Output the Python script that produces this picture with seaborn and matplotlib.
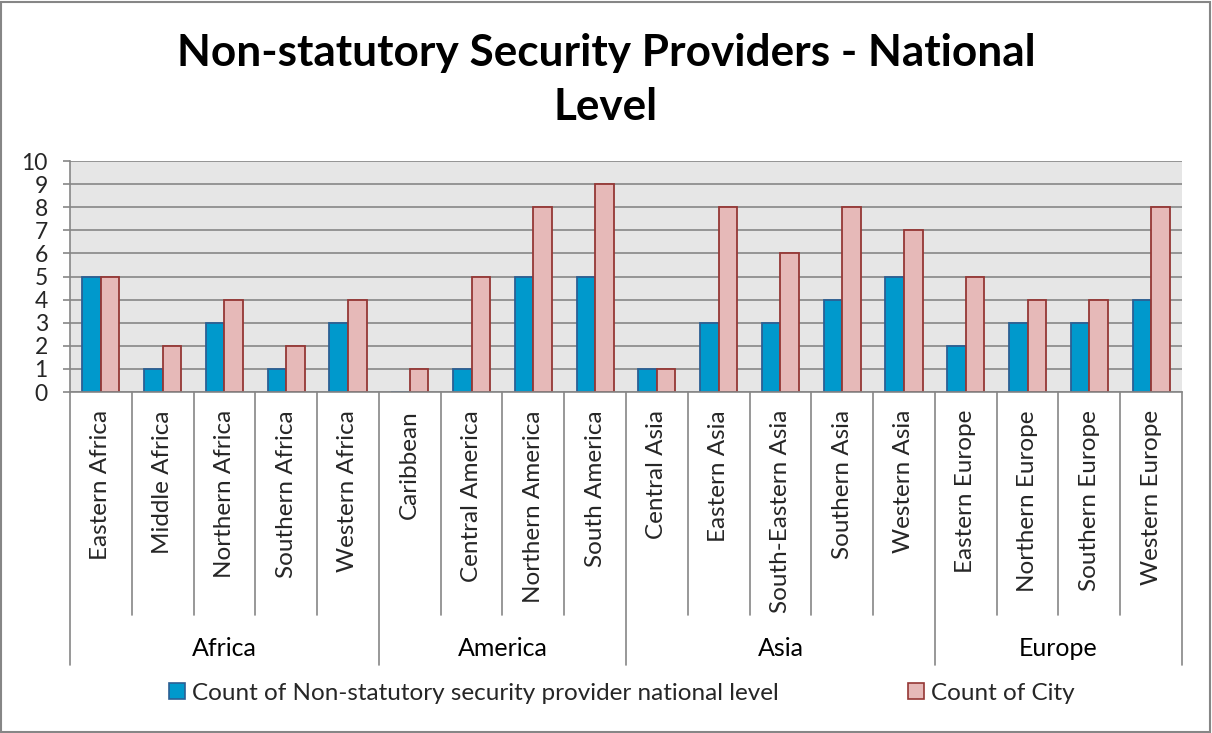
import matplotlib
matplotlib.use("Agg")
import matplotlib.pyplot as plt
import seaborn as sns
import pandas as pd
from matplotlib.patches import Patch, Rectangle
from matplotlib.transforms import blended_transform_factory

regions = ["Africa"] * 5 + ["America"] * 4 + ["Asia"] * 5 + ["Europe"] * 4
subregions = ["Eastern Africa", "Middle Africa", "Northern Africa", "Southern Africa", "Western Africa",
              "Caribbean", "Central America", "Northern America", "South America",
              "Central Asia", "Eastern Asia", "South-Eastern Asia", "Southern Asia", "Western Asia",
              "Eastern Europe", "Northern Europe", "Southern Europe", "Western Europe"]
national_count = [5, 1, 3, 1, 3, 0, 1, 5, 5, 1, 3, 3, 4, 5, 2, 3, 3, 4]
city_count = [5, 2, 4, 2, 4, 1, 5, 8, 9, 1, 8, 6, 8, 7, 5, 4, 4, 8]
series_names = ["Count of Non-statutory security provider national level", "Count of City"]
title = "Non-statutory Security Providers - National\nLevel"

sns.set_theme(style="white")
plt.rcParams["font.family"] = ["Lato", "DejaVu Sans"]

df = pd.DataFrame({
    "sub": subregions * 2,
    "value": national_count + city_count,
    "series": [series_names[0]] * len(subregions) + [series_names[1]] * len(subregions),
})

face = ["#0099CC", "#E6B9B8"]
edge = ["#2C5F93", "#953735"]

W, H = 1212, 733
fig = plt.figure(figsize=(W / 100, H / 100), dpi=100)
ax = fig.add_axes([70 / W, 1 - 392 / H, (1182 - 70) / W, (392 - 161) / H])
ax.set_facecolor("#E6E6E6")

sns.barplot(data=df, x="sub", y="value", hue="series", order=subregions, hue_order=series_names,
            palette=face, width=0.6, gap=0, ax=ax, legend=False, linewidth=1.3, saturation=1)
for cont, ec in zip(ax.containers, edge):
    for p in cont:
        p.set_edgecolor(ec)

ax.set_ylim(0, 10)
ax.set_xlim(-0.5, len(subregions) - 0.5)
ax.set_yticks(range(0, 11))
ax.yaxis.grid(True, color="#868686", linewidth=1.2)
ax.set_axisbelow(True)
ax.tick_params(axis="y", left=True, length=5, width=1.2, color="#868686", labelsize=16.5, pad=11)
ax.tick_params(axis="x", bottom=False, length=0, labelsize=17.5, pad=13)
ax.set_xticks(range(len(subregions)))
ax.set_xticklabels(subregions, rotation=90, va="top", ha="center")
ax.set_xlabel("")
ax.set_ylabel("")
for s in ["top", "right"]:
    ax.spines[s].set_visible(False)
for s in ["left", "bottom"]:
    ax.spines[s].set_color("#868686")
    ax.spines[s].set_linewidth(1.2)

# category separators and group separators below the axis
tr = blended_transform_factory(ax.transData, ax.transAxes)
ah = 392 - 161
y_cat = -(615 - 392) / ah
y_grp = -(665 - 392) / ah
y_lab = -(648 - 392) / ah
bounds = [i - 0.5 for i in range(len(subregions) + 1)]
group_edges = [0]
for i in range(1, len(regions)):
    if regions[i] != regions[i - 1]:
        group_edges.append(i)
group_edges.append(len(regions))
for b in bounds:
    idx = int(b + 0.5)
    yend = y_grp if idx in group_edges else y_cat
    ax.plot([b, b], [0, yend], transform=tr, color="#868686", lw=1.2, clip_on=False)
for a, bnd in zip(group_edges[:-1], group_edges[1:]):
    ax.text((a + bnd - 1) / 2, y_lab, regions[a], transform=tr, ha="center", va="center",
            fontsize=18, color="black")

fig.text(606 / W, 1 - 80 / H, title, ha="center", va="center", fontsize=31.8, fontweight="bold",
         linespacing=1.45, color="black")

handles = [Patch(facecolor=f, edgecolor=e, linewidth=1.2) for f, e in zip(face, edge)]
fig.legend(handles, series_names, loc="center", bbox_to_anchor=(622 / W, 1 - 693 / H), ncol=2,
           frameon=False, fontsize=17.5, handlelength=0.65, handleheight=0.65, handletextpad=0.3,
           columnspacing=5.3)

fig.patches.append(Rectangle((1 / W, 1 / H), (W - 3) / W, (H - 3) / H, transform=fig.transFigure,
                             fill=False, edgecolor="#868686", linewidth=1.5))

fig.savefig("out.png", dpi=100, facecolor="white")
